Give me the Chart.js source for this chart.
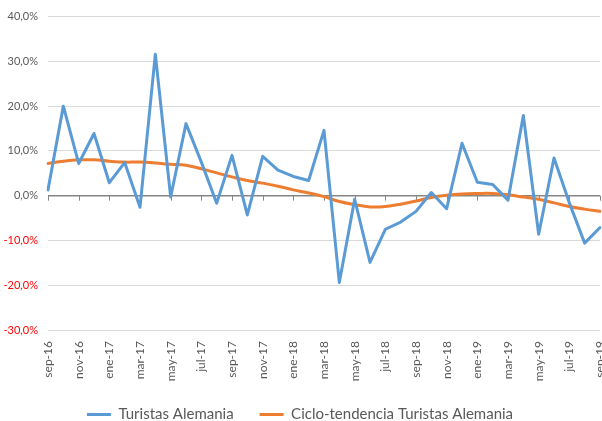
<!DOCTYPE html>
<html>
<head>
<meta charset="utf-8">
<script src="https://cdn.jsdelivr.net/npm/chart.js@4.4.0/dist/chart.umd.min.js"></script>
<style>
html,body{margin:0;padding:0;background:#fff;}
#wrap{width:602px;height:421px;}
</style>
</head>
<body>
<div id="wrap"><canvas id="c" width="602" height="421"></canvas></div>
<script>
const months = ["sep-16","oct-16","nov-16","dic-16","ene-17","feb-17","mar-17","abr-17","may-17","jun-17","jul-17","ago-17","sep-17","oct-17","nov-17","dic-17","ene-18","feb-18","mar-18","abr-18","may-18","jun-18","jul-18","ago-18","sep-18","oct-18","nov-18","dic-18","ene-19","feb-19","mar-19","abr-19","may-19","jun-19","jul-19","ago-19","sep-19"];
const turistas = [1.3,20.0,7.2,13.9,2.9,7.4,-2.6,31.6,-0.3,16.1,7.5,-1.7,9.0,-4.3,8.8,5.7,4.3,3.4,14.6,-19.4,-0.8,-14.9,-7.5,-5.9,-3.5,0.7,-2.9,11.7,3.0,2.5,-1.0,17.9,-8.6,8.4,-1.6,-10.6,-7.1];
const tendencia = [7.2,7.7,8.0,8.0,7.7,7.5,7.5,7.3,7.0,6.8,6.0,5.1,4.2,3.4,2.8,2.1,1.3,0.6,-0.2,-1.3,-2.0,-2.5,-2.4,-1.9,-1.2,-0.4,0.1,0.4,0.5,0.5,0.2,-0.3,-0.8,-1.6,-2.4,-3.0,-3.5];
const yTicks = {min:-30, max:40, step:10};
const seriesNames = ["Turistas Alemania","Ciclo-tendencia Turistas Alemania"];

const FONT = "Lato, 'Noto Sans', sans-serif";
const zeroTicks = {
  id:'zeroTicks',
  beforeDatasetsDraw(chart){
    const x = chart.scales.x, y = chart.scales.y;
    const y0 = y.getPixelForValue(0);
    const ctx = chart.ctx;
    ctx.save();
    ctx.strokeStyle = '#868686';
    ctx.lineWidth = 1;
    ctx.beginPath();
    for(let i=0;i<months.length;i+=2){
      const px = Math.round(x.getPixelForValue(i))+0.5;
      ctx.moveTo(px,y0);
      ctx.lineTo(px,y0+5);
    }
    ctx.stroke();
    ctx.restore();
  }
};

new Chart(document.getElementById('c'),{
  type:'line',
  data:{
    labels:months,
    datasets:[
      {label:seriesNames[0],data:turistas,borderColor:'#5B9BD5',backgroundColor:'#5B9BD5',borderWidth:3,borderJoinStyle:'round',borderCapStyle:'round',pointRadius:0,tension:0},
      {label:seriesNames[1],data:tendencia,borderColor:'#ED7D31',backgroundColor:'#ED7D31',borderWidth:3,borderJoinStyle:'round',borderCapStyle:'round',pointRadius:0,tension:0.4}
    ]
  },
  options:{
    responsive:false,
    animation:false,
    devicePixelRatio:1,
    layout:{padding:{top:10,right:2,left:0,bottom:-11}},
    plugins:{
      legend:{
        position:'bottom',
        labels:{
          usePointStyle:true,
          pointStyle:'line',
          pointStyleWidth:24,
          boxHeight:3,
          color:'#595959',
          font:{family:FONT,size:15},
          padding:26
        }
      },
      tooltip:{enabled:false}
    },
    scales:{
      x:{
        grid:{display:false},
        border:{display:false},
        ticks:{
          autoSkip:false,
          minRotation:90,
          maxRotation:90,
          padding:3,
          color:'#595959',
          font:{family:FONT,size:12},
          callback:function(v,i){return i%2===0?months[i]:'';}
        },
        afterFit(s){s.paddingLeft=0;s.paddingRight=0;s.height=51;}
      },
      y:{
        min:yTicks.min,max:yTicks.max,
        border:{display:false},
        grid:{
          color:(c)=>c.tick && c.tick.value===0?'#868686':'#d9d9d9',
          lineWidth:(c)=>c.tick && c.tick.value===0?1.5:1,
          drawTicks:false
        },
        ticks:{
          stepSize:yTicks.step,
          padding:10,
          color:(c)=>c.tick && c.tick.value<0?'#FF0000':'#595959',
          font:{family:FONT,size:11},
          callback:(v)=>v.toFixed(1).replace('.',',')+'%'
        },
        afterFit(s){s.width=48;}
      }
    }
  },
  plugins:[zeroTicks]
});
</script>
</body>
</html>
